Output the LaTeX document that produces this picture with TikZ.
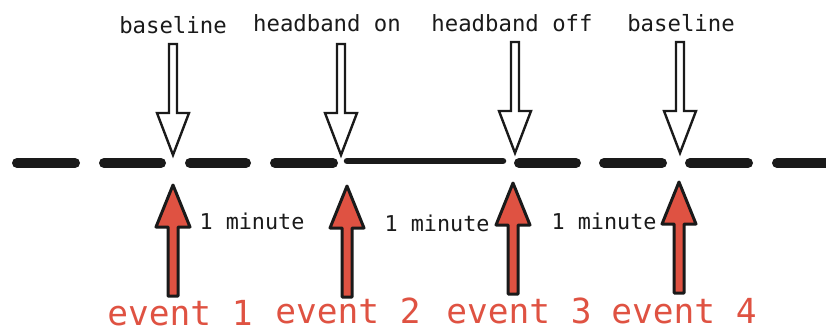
\documentclass[tikz,border=0pt]{standalone}
\usepackage{fontspec}
\setmonofont{DejaVu Sans Mono}
\definecolor{evred}{HTML}{DF5242}
\definecolor{ink}{HTML}{1A1A1A}
\tikzset{
  x=1pt, y=-1pt,
  dashseg/.style={draw=ink, line width=10pt, line cap=round},
  thinseg/.style={draw=ink, line width=6.5pt, line cap=round},
  marklabel/.style={font=\ttfamily\fontsize{22.3}{26}\selectfont, text=ink, anchor=base, inner sep=0pt},
  gaplabel/.style={font=\ttfamily\fontsize{21.8}{26}\selectfont, text=ink, anchor=base, inner sep=0pt},
  eventlabel/.style={font=\ttfamily\fontsize{34.5}{40}\selectfont, text=evred, anchor=base, inner sep=0pt},
  hollow/.style={draw=ink, fill=white, line width=2.4pt, line join=miter},
  redarrow/.style={draw=ink, fill=evred, line width=3pt, line join=round},
  pics/downarrow/.style={code={
    \path[hollow] (0,0) -- (-16,-42) -- (-4,-42) -- (-4,-111) -- (4,-111)
      -- (4,-42) -- (16,-42) -- cycle;}},
  pics/uparrow/.style={code={
    \path[redarrow] (0,0) -- (-17,42) -- (-5,42) -- (-5,111) -- (5,111)
      -- (5,42) -- (17,42) -- cycle;}}
}
\begin{document}
\begin{tikzpicture}
\useasboundingbox (0,0) rectangle (826,334);

% timeline
\coordinate (d1a) at (17,163);  \coordinate (d1b) at (75,163);
\coordinate (d2a) at (104,163); \coordinate (d2b) at (161,163);
\coordinate (d3a) at (190,163); \coordinate (d3b) at (246,163);
\coordinate (d4a) at (275,163); \coordinate (d4b) at (333,163);
\coordinate (s1a) at (347,161); \coordinate (s1b) at (503,161);
\coordinate (d5a) at (519,163); \coordinate (d5b) at (576,163);
\coordinate (d6a) at (604,163); \coordinate (d6b) at (662,163);
\coordinate (d7a) at (690,163); \coordinate (d7b) at (748,163);
\coordinate (d8a) at (777,163); \coordinate (d8b) at (840,163);
\foreach \s in {1,...,8} \draw[dashseg] (d\s a) -- (d\s b);
\draw[thinseg] (s1a) -- (s1b);

% state markers above the line
\pic at (173,155) {downarrow};
\pic at (341,155) {downarrow};
\pic at (515,153) {downarrow};
\pic at (680,153) {downarrow};
\node[marklabel] (m1) at (173,34) {baseline};
\node[marklabel] (m2) at (327,32) {headband on};
\node[marklabel] (m3) at (512,32) {headband off};
\node[marklabel] (m4) at (681,32) {baseline};

% events below the line
\pic at (173,185) {uparrow};
\pic at (347,186) {uparrow};
\pic at (513,183) {uparrow};
\pic at (679,182) {uparrow};
\node[eventlabel] (e1) at (180,325) {event 1};
\node[eventlabel] (e2) at (348,323) {event 2};
\node[eventlabel] (e3) at (519,323) {event 3};
\node[eventlabel] (e4) at (684,323) {event 4};

% intervals
\node[gaplabel] (g1) at (252,229) {1 minute};
\node[gaplabel] (g2) at (437,231) {1 minute};
\node[gaplabel] (g3) at (604,229) {1 minute};
\end{tikzpicture}
\end{document}
